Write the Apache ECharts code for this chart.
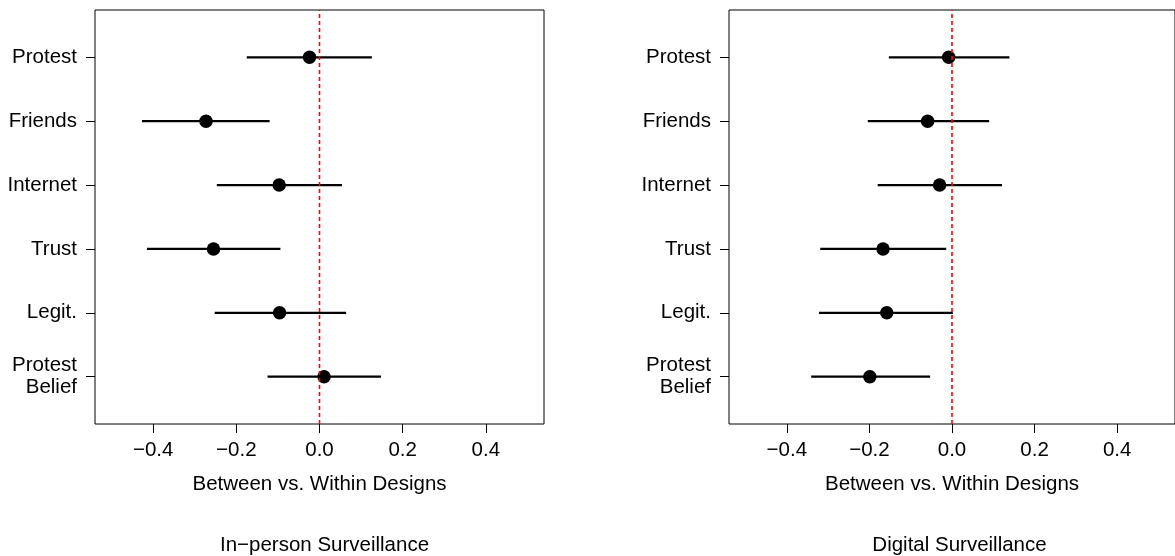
<!DOCTYPE html>
<html><head><meta charset="utf-8">
<script src="https://cdn.jsdelivr.net/npm/echarts@6/dist/echarts.min.js"></script>
<style>html,body{margin:0;padding:0;background:#fff}#c{width:1175px;height:556px}</style>
</head><body><div id="c"></div>
<script>
// ---- data ----
const categories = ['Protest', 'Friends', 'Internet', 'Trust', 'Legit.', 'Protest\nBelief'];
const inPersonEst  = [-0.024, -0.273, -0.097, -0.255, -0.096,  0.011];
const inPersonLow  = [-0.175, -0.427, -0.247, -0.415, -0.252, -0.125];
const inPersonHigh = [ 0.126, -0.120,  0.054, -0.094,  0.064,  0.148];
const digitalEst   = [-0.008, -0.059, -0.030, -0.167, -0.158, -0.199];
const digitalLow   = [-0.153, -0.204, -0.180, -0.319, -0.322, -0.341];
const digitalHigh  = [ 0.139,  0.090,  0.121, -0.014,  0.002, -0.053];
const xTicks = [-0.4, -0.2, 0, 0.2, 0.4];
const refValue = 0;
const panelTitles = ['In\u2212person Surveillance', 'Digital Surveillance'];
const xAxisTitle = 'Between vs. Within Designs';

// ---- build ----
const FONT = '"Liberation Sans", Arial, Helvetica, sans-serif';
const FS = 20.5;
const n = categories.length;
const yPos = categories.map((c, i) => n - i);
const yLabelMap = {};
yPos.forEach((y, i) => { yLabelMap[y] = categories[i]; });
const fmtX = v => (v < 0 ? '\u2212' : '') + Math.abs(v).toFixed(1);
const Y_MIN = 0.26, Y_MAX = 6.74;

const panels = [
  {est: inPersonEst, low: inPersonLow, high: inPersonHigh, left: 95, width: 449},
  {est: digitalEst, low: digitalLow, high: digitalHigh, left: 729, width: 451}
];

const grids = [], xAxes = [], yAxes = [], series = [], titles = [];
panels.forEach((p, k) => {
  grids.push({left: p.left, top: 10, width: p.width, height: 414, show: true,
    borderColor: '#000', borderWidth: 1, backgroundColor: 'transparent', containLabel: false});
  xAxes.push({type: 'value', gridIndex: k, min: -0.54, max: 0.54, position: 'bottom',
    axisLine: {show: false, onZero: false}, splitLine: {show: false},
    axisTick: {show: true, inside: false, length: 9, customValues: xTicks, lineStyle: {color: '#000', width: 1}},
    axisLabel: {show: true, customValues: xTicks, formatter: fmtX, margin: 16,
      fontFamily: FONT, fontSize: FS, color: '#000'},
    name: xAxisTitle, nameLocation: 'middle', nameGap: 50,
    nameTextStyle: {fontFamily: FONT, fontSize: FS, color: '#000'}
  });
  yAxes.push({type: 'value', gridIndex: k, min: Y_MIN, max: Y_MAX, position: 'left',
    axisLine: {show: false, onZero: false}, splitLine: {show: false},
    axisTick: {show: true, inside: false, length: 9, customValues: yPos, lineStyle: {color: '#000', width: 1}},
    axisLabel: {show: true, customValues: yPos, formatter: v => yLabelMap[v] || '', margin: 18,
      fontFamily: FONT, fontSize: FS, color: '#000', align: 'right', lineHeight: 22}
  });
  const ciData = yPos.map((y, i) => [p.low[i], p.high[i], y]);
  series.push({type: 'custom', xAxisIndex: k, yAxisIndex: k, z: 2,
    renderItem: (params, api) => {
      const a = api.coord([api.value(0), api.value(2)]);
      const b = api.coord([api.value(1), api.value(2)]);
      return {type: 'line', shape: {x1: a[0], y1: a[1], x2: b[0], y2: b[1]},
        style: {stroke: '#000', lineWidth: 2.2}};
    },
    encode: {x: [0, 1], y: 2},
    data: ciData, silent: true
  });
  series.push({type: 'scatter', xAxisIndex: k, yAxisIndex: k, z: 3,
    symbol: 'circle', symbolSize: 13.5, itemStyle: {color: '#000', opacity: 1},
    data: yPos.map((y, i) => [p.est[i], y]), silent: true
  });
  series.push({type: 'custom', xAxisIndex: k, yAxisIndex: k, z: 10,
    renderItem: (params, api) => {
      const a = api.coord([api.value(0), Y_MIN]);
      const b = api.coord([api.value(0), Y_MAX]);
      return {type: 'line', shape: {x1: a[0], y1: a[1], x2: b[0], y2: b[1]},
        style: {stroke: '#ff0000', lineWidth: 1.6, lineDash: [4, 3]}};
    },
    encode: {x: 0},
    data: [[refValue]], silent: true
  });
  titles.push({text: panelTitles[k], left: p.left + p.width / 2, top: 530, textAlign: 'center',
    textStyle: {fontFamily: FONT, fontSize: FS, fontWeight: 'normal', color: '#000'}});
});

const chart = echarts.init(document.getElementById('c'), null, {renderer: 'canvas'});
chart.setOption({
  animation: false, backgroundColor: '#fff',
  title: titles, grid: grids, xAxis: xAxes, yAxis: yAxes, series: series
});
</script></body></html>
